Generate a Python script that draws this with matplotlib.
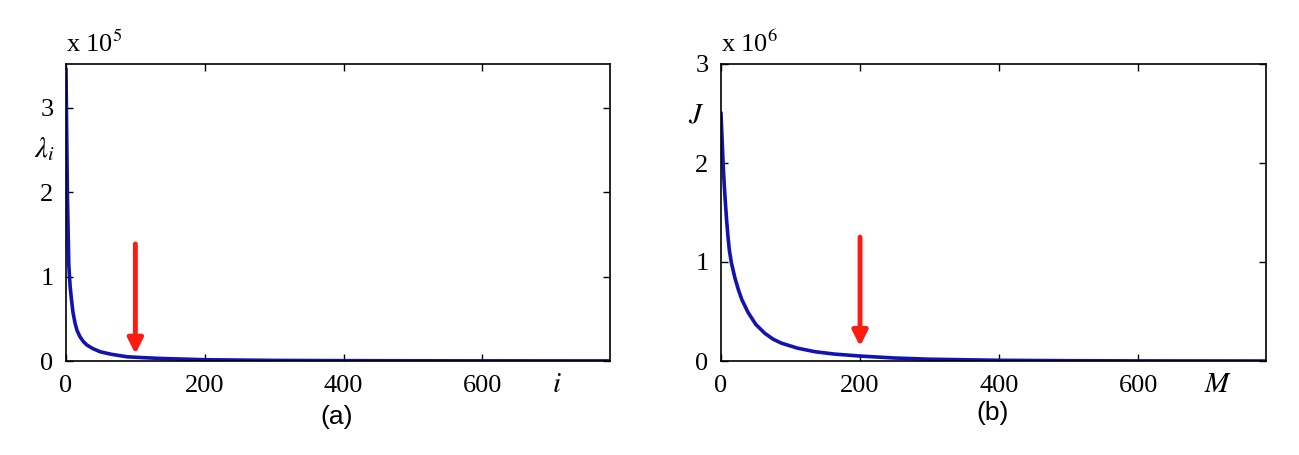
import numpy as np
import matplotlib
matplotlib.use("Agg")
import matplotlib.pyplot as plt

plt.rcParams["font.family"] = "Liberation Serif"
plt.rcParams["mathtext.fontset"] = "stix"

# (a) eigenvalues, in units of 1e5
idx_a = [0, 1, 2, 3.4, 4, 5, 6, 8, 10, 13, 16, 20, 25, 30, 38, 49, 65, 88, 110, 137,
         200, 300, 400, 550, 784]
lam_a = [3.45, 2.7, 2.0, 1.4, 1.15, 1.0, 0.88, 0.72, 0.58, 0.45, 0.36, 0.29, 0.23, 0.19,
         0.15, 0.11, 0.08, 0.05, 0.04, 0.03, 0.015, 0.007, 0.004, 0.002, 0.001]

# (b) cost J, in units of 1e6
m_b = [0, 1.5, 3, 4.5, 6, 8, 10, 12, 15, 20, 25, 30, 39, 50, 63, 75, 87, 110, 135, 163,
       200, 250, 300, 400, 500, 600, 784]
j_b = [2.5, 2.25, 2.0, 1.8, 1.63, 1.43, 1.26, 1.12, 0.99, 0.84, 0.72, 0.62, 0.49, 0.37,
       0.28, 0.22, 0.18, 0.13, 0.094, 0.07, 0.05, 0.03, 0.018, 0.007, 0.003, 0.001, 0.0]

arrow_a = (100, 1.42, 0.05)
arrow_b = (200, 1.28, 0.12)

fig = plt.figure(figsize=(12.99, 4.55), dpi=100)
ax1 = fig.add_axes([66 / 1299, 94 / 455, 544 / 1299, 297 / 455])
ax2 = fig.add_axes([721 / 1299, 94 / 455, 545 / 1299, 297 / 455])

blue = "#1212b0"
ax1.plot(idx_a, lam_a, color=blue, lw=2.6)
ax2.plot(m_b, j_b, color=blue, lw=2.6)

for ax, (ax_x, y0, y1) in [(ax1, arrow_a), (ax2, arrow_b)]:
    ax.annotate("", xy=(ax_x, y1), xytext=(ax_x, y0),
                arrowprops=dict(arrowstyle="-|>,head_length=0.9,head_width=0.45",
                                color="#ff1a10", lw=3.5))

ax1.set_xlim(0, 784)
ax1.set_ylim(0, 3.52)
ax1.set_yticks([0, 1, 2, 3])
ax2.set_xlim(0, 784)
ax2.set_ylim(0, 3)
ax2.set_yticks([0, 1, 2, 3])

for ax in (ax1, ax2):
    ax.set_xticks([0, 200, 400, 600])
    ax.tick_params(direction="in", top=True, right=True, length=5, width=1,
                   labelsize=19)
    ax.tick_params(axis="x", pad=10)
    ax.tick_params(axis="y", pad=9)
    for s in ax.spines.values():
        s.set_linewidth(1.2)

ax1.text(-0.040, 0.714, r"$\lambda_i$", transform=ax1.transAxes, fontsize=21,
         ha="center", va="center")
ax1.text(0.903, -0.08, r"$i$", transform=ax1.transAxes, fontsize=21, ha="center", va="center")
ax2.text(-0.046, 0.828, r"$J$", transform=ax2.transAxes, fontsize=21, ha="center", va="center")
ax2.text(0.912, -0.08, r"$M$", transform=ax2.transAxes, fontsize=21, ha="center", va="center")

fig.text(66 / 1299, 1 - 44 / 455, r"x 10$^5$", fontsize=19, va="center")
fig.text(721 / 1299, 1 - 44 / 455, r"x 10$^6$", fontsize=19, va="center")

fig.text(337 / 1299, 1 - 417 / 455, "(a)", fontsize=19, family="Liberation Sans",
         ha="center", va="center")
fig.text(993 / 1299, 1 - 413 / 455, "(b)", fontsize=19, family="Liberation Sans",
         ha="center", va="center")

fig.savefig("out.png", dpi=100)
